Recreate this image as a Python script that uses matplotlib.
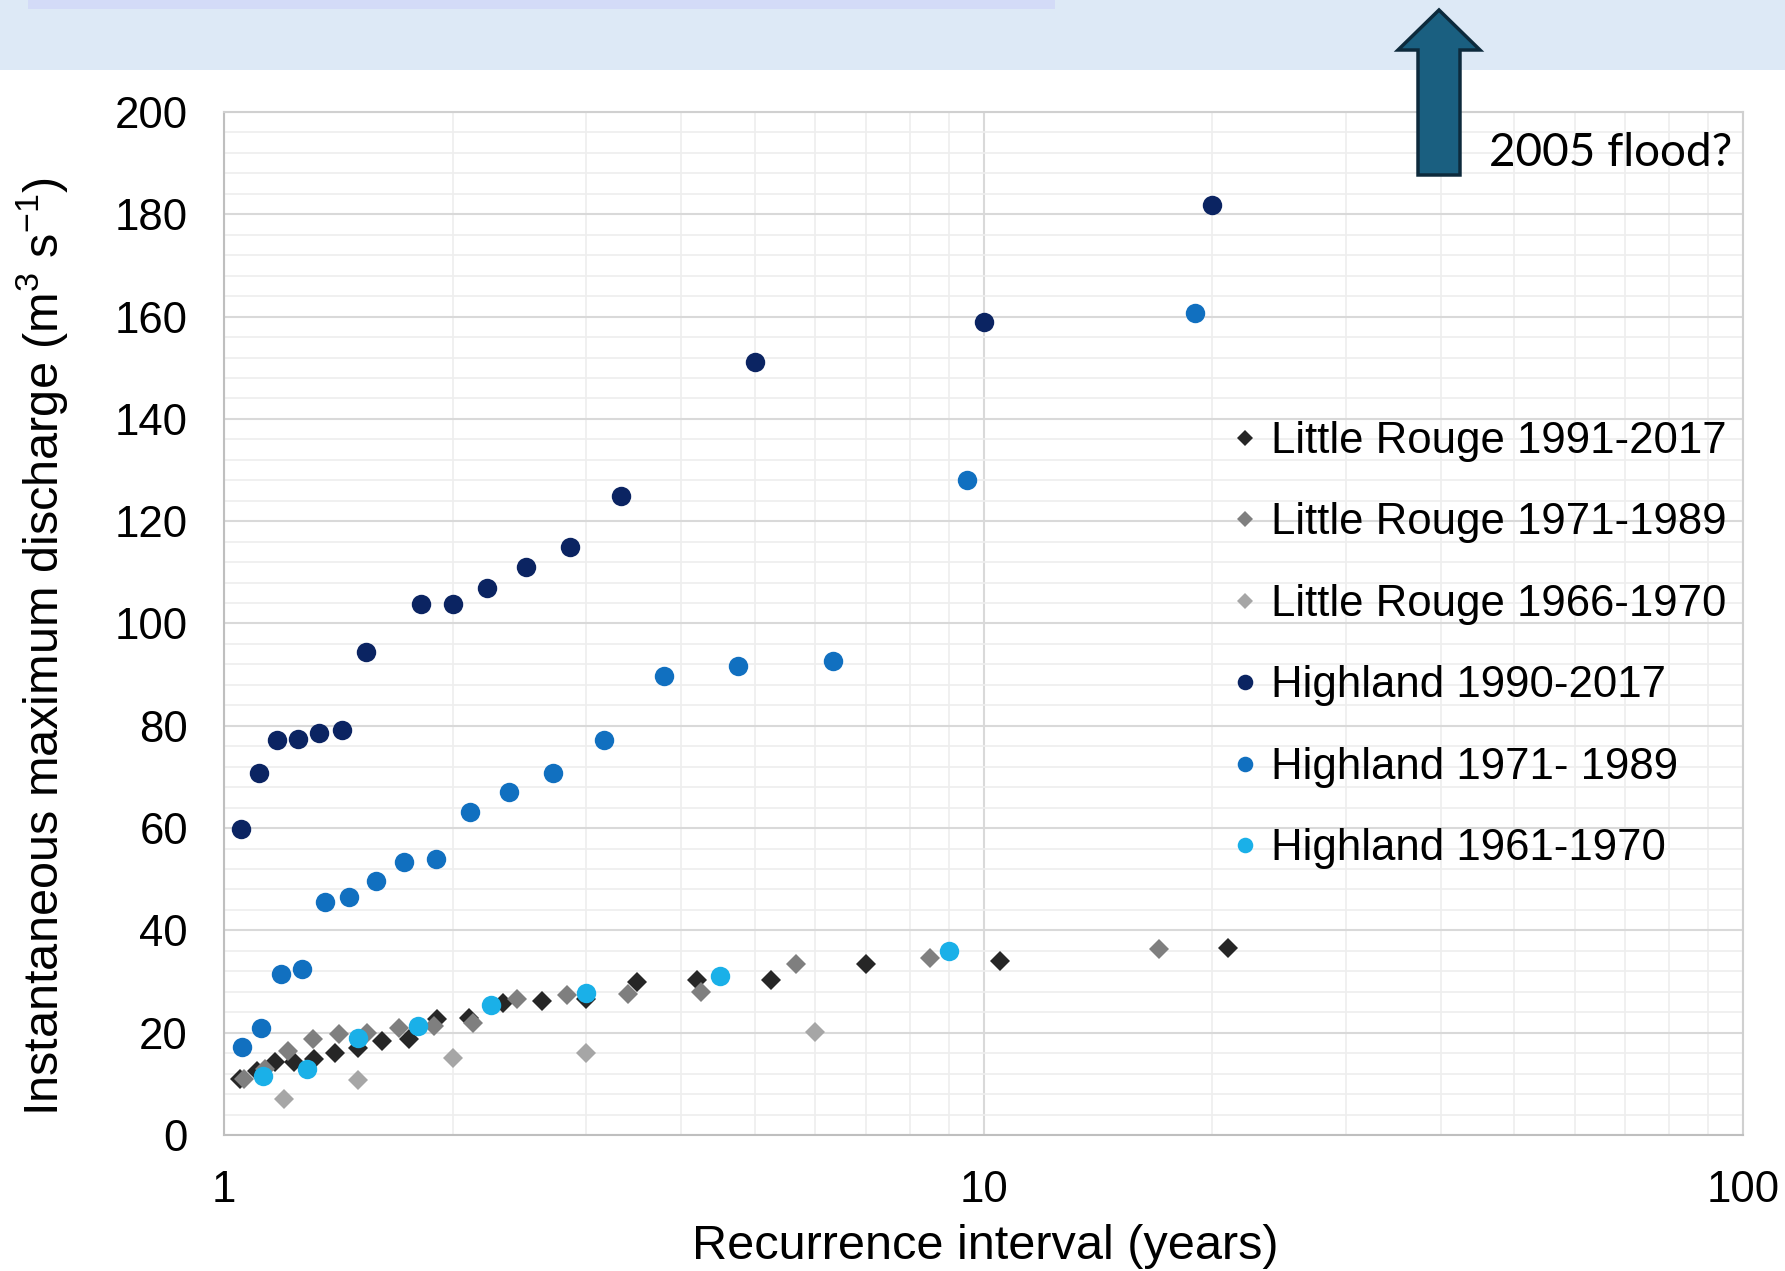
import matplotlib
matplotlib.use("Agg")
import matplotlib.pyplot as plt
from matplotlib.patches import Rectangle, Polygon

# Recurrence interval (years) and discharge (m3/s)
lr_1991_x = [1.05, 1.105, 1.167, 1.235, 1.3125, 1.4, 1.5, 1.615, 1.75, 1.909,
             2.1, 2.333, 2.625, 3.0, 3.5, 4.2, 5.25, 7.0, 10.5, 21.0]
lr_1991_y = [10.9, 12.5, 14.3, 14.3, 14.8, 16.0, 17.1, 18.4, 18.7, 22.6,
             22.9, 25.9, 26.1, 26.5, 30.0, 30.4, 30.4, 33.4, 34.1, 36.5]

lr_1971_x = [1.0625, 1.133, 1.214, 1.308, 1.417, 1.545, 1.7, 1.889, 2.125,
             2.429, 2.833, 3.4, 4.25, 5.667, 8.5, 17.0]
lr_1971_y = [10.9, 13.0, 16.4, 18.7, 19.7, 20.0, 21.0, 21.3, 21.8,
             26.6, 27.4, 27.5, 27.9, 33.4, 34.7, 36.4]

lr_1966_x = [1.2, 1.5, 2.0, 3.0, 6.0]
lr_1966_y = [7.0, 10.7, 15.1, 16.0, 20.1]

hl_1990_x = [1.053, 1.111, 1.176, 1.25, 1.333, 1.429, 1.538, 1.818, 2.0,
             2.222, 2.5, 2.857, 3.333, 5.0, 10.0, 20.0]
hl_1990_y = [59.8, 70.8, 77.2, 77.5, 78.5, 79.2, 94.5, 103.9, 103.9,
             107.0, 111.0, 115.0, 125.0, 151.1, 158.9, 181.8]

hl_1971_x = [1.056, 1.118, 1.1875, 1.267, 1.357, 1.462, 1.583, 1.727, 1.9,
             2.111, 2.375, 2.714, 3.167, 3.8, 4.75, 6.333, 9.5, 19.0]
hl_1971_y = [17.3, 20.9, 31.4, 32.4, 45.5, 46.6, 49.6, 53.4, 54.0,
             63.1, 67.0, 70.8, 77.3, 89.8, 91.7, 92.6, 128.1, 160.7]

hl_1961_x = [1.125, 1.286, 1.5, 1.8, 2.25, 3.0, 4.5, 9.0]
hl_1961_y = [11.5, 12.9, 19.0, 21.3, 25.5, 27.8, 31.1, 36.0]

series = [
    ("Little Rouge 1991-2017", lr_1991_x, lr_1991_y, "D", "#262626"),
    ("Little Rouge 1971-1989", lr_1971_x, lr_1971_y, "D", "#7f7f7f"),
    ("Little Rouge 1966-1970", lr_1966_x, lr_1966_y, "D", "#a6a6a6"),
    ("Highland 1990-2017", hl_1990_x, hl_1990_y, "o", "#0b2462"),
    ("Highland 1971- 1989", hl_1971_x, hl_1971_y, "o", "#1170c0"),
    ("Highland 1961-1970", hl_1961_x, hl_1961_y, "o", "#1ab0e8"),
]

plt.rcParams['font.family'] = ['Liberation Sans', 'DejaVu Sans']
plt.rcParams['mathtext.fontset'] = 'custom'
plt.rcParams['mathtext.rm'] = 'Liberation Sans'
plt.rcParams['mathtext.default'] = 'regular'

W, H = 1785, 1271
fig = plt.figure(figsize=(W / 100, H / 100), dpi=100)

# banner across the top
fig.patches.append(Rectangle((0, 1 - 70 / H), 1, 70 / H, transform=fig.transFigure,
                             facecolor="#dde9f6", edgecolor="none", zorder=0))
fig.patches.append(Rectangle((28 / W, 1 - 9 / H), (1055 - 28) / W, 9 / H,
                             transform=fig.transFigure,
                             facecolor="#d3dbf7", edgecolor="none", zorder=1))

ax = fig.add_axes([224 / W, 1 - 1135 / H, (1743 - 224) / W, (1135 - 112) / H])
ax.set_xscale("log")
ax.set_xlim(1, 100)
ax.set_ylim(0, 200)

for label, xs, ys, mk, col in series:
    ms = 10.5 if mk == "D" else 14
    ax.plot(xs, ys, linestyle="none", marker=mk, markersize=ms,
            color=col, markeredgewidth=0, label=label, zorder=3)

ax.set_yticks(range(0, 201, 20))
ax.set_yticks(range(0, 201, 4), minor=True)
ax.set_xticks([1, 10, 100])
ax.set_xticklabels(["1", "10", "100"])
ax.grid(True, which="major", color="#d9d9d9", linewidth=1.5, zorder=0)
ax.grid(True, which="minor", color="#eeeeee", linewidth=1.2, zorder=0)
ax.tick_params(which="both", length=0)
ax.tick_params(axis="y", labelsize=31.5, pad=26)
ax.tick_params(axis="x", labelsize=31.5, pad=25)
ax.xaxis.set_minor_formatter(plt.NullFormatter())
for sp in ax.spines.values():
    sp.set_color("#d0d0d0")
    sp.set_linewidth(1.5)
ax.spines["left"].set_color("#bfbfbf")
ax.spines["bottom"].set_color("#bfbfbf")
ax.set_axisbelow(True)

ax.set_xlabel("Recurrence interval (years)", fontsize=35)
ax.xaxis.label.set_va("center")
ax.xaxis.set_label_coords(0.501, -0.109)
ax.set_ylabel("Instantaneous maximum discharge (m$^{3}$ s$^{-1}$)", fontsize=35)
ax.yaxis.label.set_va("center")
ax.yaxis.set_label_coords(-0.1198, 0.477)

ax.legend(loc="upper left", bbox_to_anchor=(1232 / W, 1 - 421 / H),
          bbox_transform=fig.transFigure, frameon=False, fontsize=31.5,
          markerscale=0.8, handlelength=0.6, handletextpad=0.3,
          labelspacing=0.925, borderpad=0, borderaxespad=0)

# arrow marking the 2005 flood
arrow_pts = [(1439, 10), (1398, 50), (1418, 50), (1418, 175), (1460, 175),
             (1460, 50), (1480, 50)]
fig.patches.append(Polygon([(x / W, 1 - y / H) for x, y in arrow_pts], closed=True,
                           transform=fig.transFigure, facecolor="#1a5f80",
                           edgecolor="#0d2a3c", linewidth=2.5, zorder=5))
fig.text(1489 / W, 1 - 153 / H, "2005 flood?", fontsize=33, family=["Lato", "DejaVu Sans"],
         va="center", ha="left")

fig.savefig("out.png", dpi=100)
